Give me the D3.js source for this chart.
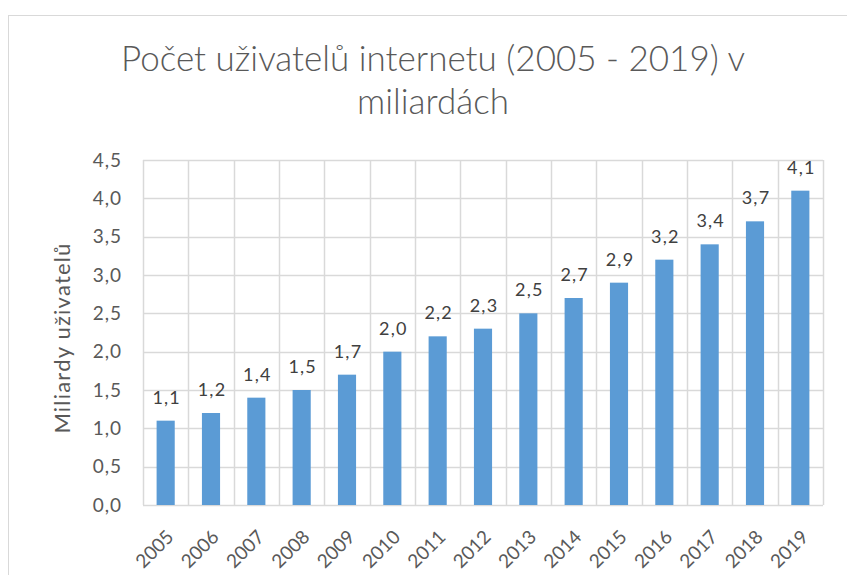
<!DOCTYPE html>
<html>
<head>
<meta charset="utf-8">
<script src="https://cdn.jsdelivr.net/npm/d3@7"></script>
<style>
  body { margin: 0; background: #fff; }
  svg { display: block; }
</style>
</head>
<body>
<svg></svg>
<script>
'use strict';

var years = ['2005', '2006', '2007', '2008', '2009', '2010', '2011', '2012',
    '2013', '2014', '2015', '2016', '2017', '2018', '2019'];
var users = [1.1, 1.2, 1.4, 1.5, 1.7, 2.0, 2.2, 2.3, 2.5, 2.7, 2.9, 3.2, 3.4, 3.7, 4.1];
var yTicks = [0, 0.5, 1, 1.5, 2, 2.5, 3, 3.5, 4, 4.5];
var titleLines = ['Počet uživatelů internetu (2005 - 2019) v', 'miliardách'];
var yTitle = 'Miliardy uživatelů';

var svgWidth = 847,
    svgHeight = 575;
var margin = { top: 160, right: 24, bottom: 70, left: 143 };
var width = svgWidth - margin.left - margin.right;
var height = svgHeight - margin.top - margin.bottom;
var font = "Lato, 'Open Sans', sans-serif";

var fmt = function (v) { return d3.format('.1f')(v).replace('.', ','); };

var svg = d3.select('svg')
    .attr('width', svgWidth)
    .attr('height', svgHeight);

// chart frame
svg.append('rect')
    .attr('x', 8.5)
    .attr('y', 15.5)
    .attr('width', svgWidth)
    .attr('height', svgHeight)
    .attr('fill', 'none')
    .attr('stroke', '#d9d9d9');

svg.append('text')
    .attr('y', 71)
    .attr('text-anchor', 'middle')
    .attr('font-family', font)
    .attr('font-size', 35)
    .attr('font-weight', 300)
    .attr('fill', '#595959')
    .selectAll('tspan')
    .data(titleLines)
    .enter().append('tspan')
    .attr('x', 433)
    .attr('dy', function (d, i) { return i ? 43 : 0; })
    .text(function (d) { return d; });

var g = svg.append('g')
    .attr('transform', 'translate(' + margin.left + ',' + margin.top + ')');

var x = d3.scaleBand().domain(years).range([0, width]).paddingInner(0.6).paddingOuter(0.3);
var xCell = d3.scaleBand().domain(years).range([0, width]);
var y = d3.scaleLinear().domain([0, 4.5]).range([height, 0]);

// horizontal gridlines
g.append('g')
    .selectAll('line')
    .data(yTicks)
    .enter().append('line')
    .attr('x1', 0)
    .attr('x2', width)
    .attr('y1', function (d) { return Math.round(y(d)) + 0.5; })
    .attr('y2', function (d) { return Math.round(y(d)) + 0.5; })
    .attr('stroke', '#d9d9d9')
    .attr('stroke-width', 1.5);

// vertical gridlines
g.append('g')
    .selectAll('line')
    .data(years.concat(['end']))
    .enter().append('line')
    .attr('x1', function (d, i) { return Math.round(i * xCell.step()) + 0.5; })
    .attr('x2', function (d, i) { return Math.round(i * xCell.step()) + 0.5; })
    .attr('y1', 0)
    .attr('y2', height)
    .attr('stroke', '#d9d9d9')
    .attr('stroke-width', 1.5);

g.append('g')
    .selectAll('rect')
    .data(users)
    .enter().append('rect')
    .attr('x', function (d, i) { return x(years[i]); })
    .attr('y', function (d) { return y(d); })
    .attr('width', x.bandwidth())
    .attr('height', function (d) { return height - y(d); })
    .attr('fill', '#5b9bd5');

g.append('g')
    .selectAll('text')
    .data(users)
    .enter().append('text')
    .attr('x', function (d, i) { return x(years[i]) + x.bandwidth() / 2 + 1; })
    .attr('y', function (d) { return y(d) - 17; })
    .attr('text-anchor', 'middle')
    .attr('font-family', font)
    .attr('font-size', 18)
    .attr('letter-spacing', 1.2)
    .attr('fill', '#404040')
    .text(fmt);

// y axis labels
g.append('g')
    .attr('class', 'axis y')
    .call(d3.axisLeft(y).tickValues(yTicks).tickFormat(fmt).tickSize(0).tickPadding(21))
    .call(function (a) { a.select('.domain').remove(); })
    .selectAll('text')
    .attr('font-family', font)
    .attr('font-size', 19)
    .attr('letter-spacing', 1)
    .attr('fill', '#595959');

// x axis labels
g.append('g')
    .attr('class', 'axis x')
    .attr('transform', 'translate(0,' + height + ')')
    .call(d3.axisBottom(xCell).tickSize(0))
    .call(function (a) { a.select('.domain').remove(); })
    .selectAll('text')
    .attr('font-family', font)
    .attr('font-size', 19)
    .attr('fill', '#595959')
    .attr('text-anchor', 'end')
    .attr('dy', 0)
    .attr('transform', 'translate(7,31) rotate(-45)');

g.append('text')
    .attr('transform', 'translate(-73,178) rotate(-90)')
    .attr('text-anchor', 'middle')
    .attr('font-family', font)
    .attr('font-size', 22)
    .attr('letter-spacing', 1.2)
    .attr('fill', '#595959')
    .text(yTitle);
</script>
</body>
</html>
